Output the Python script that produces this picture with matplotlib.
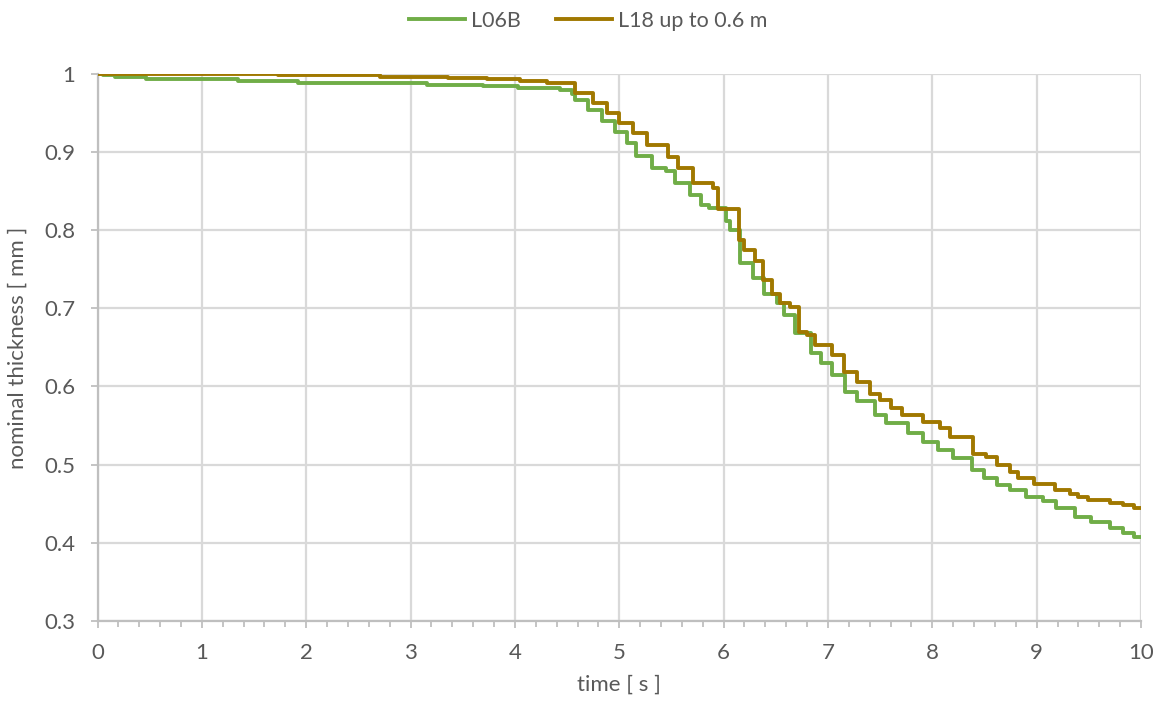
import matplotlib
matplotlib.use("Agg")
import matplotlib.pyplot as plt
from matplotlib.ticker import MultipleLocator, FuncFormatter

plt.rcParams['font.family'] = ['Lato', 'DejaVu Sans']

# step changes of the nominal thickness: time [s] where a level starts, level [mm]
l06b_t = [0, 0.05, 0.17, 0.46, 0.86, 1.35, 1.92, 2.55, 3.16, 3.69, 4.03, 4.43,
          4.55, 4.58, 4.70, 4.83, 4.96, 5.07, 5.16, 5.31, 5.45, 5.53, 5.68, 5.78,
          5.86, 6.02, 6.06, 6.16, 6.28, 6.39, 6.51, 6.58, 6.68, 6.84, 6.93, 7.04,
          7.16, 7.28, 7.45, 7.56, 7.77, 7.91, 8.05, 8.20, 8.38, 8.50, 8.62, 8.74,
          8.90, 9.06, 9.19, 9.37, 9.52, 9.70, 9.83, 9.93, 10.0]
l06b_d = [1.0, 0.998, 0.996, 0.994, 0.993, 0.991, 0.989, 0.988, 0.986, 0.9845, 0.9825, 0.980,
          0.974, 0.967, 0.954, 0.940, 0.926, 0.912, 0.895, 0.879, 0.876, 0.860, 0.845, 0.832,
          0.829, 0.812, 0.800, 0.758, 0.739, 0.719, 0.707, 0.692, 0.668, 0.643, 0.630, 0.615,
          0.593, 0.581, 0.564, 0.553, 0.540, 0.529, 0.519, 0.508, 0.493, 0.483, 0.474, 0.467,
          0.459, 0.453, 0.444, 0.433, 0.427, 0.419, 0.412, 0.407, 0.407]

l18_t = [0, 1.73, 2.71, 3.36, 3.73, 4.05, 4.31, 4.58, 4.75, 4.88, 5.0, 5.13,
         5.27, 5.47, 5.56, 5.71, 5.90, 5.95, 6.15, 6.20, 6.30, 6.38, 6.46, 6.54,
         6.64, 6.72, 6.80, 6.88, 7.04, 7.15, 7.28, 7.40, 7.50, 7.60, 7.71, 7.91,
         8.07, 8.17, 8.39, 8.51, 8.62, 8.74, 8.82, 8.97, 9.18, 9.32, 9.40, 9.49,
         9.70, 9.83, 9.93, 10.0]
l18_d = [1.0, 0.998, 0.996, 0.9945, 0.993, 0.991, 0.989, 0.975, 0.9625, 0.950, 0.937, 0.924,
         0.909, 0.894, 0.879, 0.861, 0.854, 0.827, 0.788, 0.775, 0.760, 0.736, 0.719, 0.707,
         0.702, 0.670, 0.666, 0.653, 0.640, 0.619, 0.606, 0.591, 0.583, 0.572, 0.564, 0.555,
         0.547, 0.535, 0.514, 0.510, 0.500, 0.490, 0.483, 0.475, 0.467, 0.463, 0.459, 0.455,
         0.451, 0.448, 0.444, 0.444]

text_col = '#595959'
grid_col = '#D9D9D9'
axis_col = '#BFBFBF'

fig = plt.figure(figsize=(11.65, 7.04), dpi=100)
ax = fig.add_axes([0.0837, 0.118, 0.8957, 0.777])

ax.plot(l06b_t, l06b_d, drawstyle='steps-post', color='#70AD47', linewidth=2.8, label='L06B', zorder=3)
ax.plot(l18_t, l18_d, drawstyle='steps-post', color='#A07800', linewidth=2.8, label='L18 up to 0.6 m', zorder=4)

ax.set_xlim(0, 10)
ax.set_ylim(0.3, 1.0)
ax.xaxis.set_major_locator(MultipleLocator(1))
ax.xaxis.set_minor_locator(MultipleLocator(0.2))
ax.yaxis.set_major_locator(MultipleLocator(0.1))
ax.yaxis.set_major_formatter(FuncFormatter(lambda v, pos: '{:g}'.format(round(v, 1))))

ax.grid(True, which='major', color=grid_col, linewidth=1.6)
ax.set_axisbelow(True)
for side in ['top', 'right']:
    ax.spines[side].set_visible(False)
for side in ['left', 'bottom']:
    ax.spines[side].set_color(axis_col)
    ax.spines[side].set_linewidth(1.6)

ax.tick_params(which='major', direction='out', length=5, width=1.3, color=axis_col,
               labelsize=16, labelcolor=text_col, pad=11)
ax.tick_params(axis='x', which='minor', direction='out', length=4, width=1.3, color=axis_col)

ax.set_xlabel('time [ s ]', fontsize=16, color=text_col, labelpad=8)
ax.set_ylabel('nominal thickness [ mm ]', fontsize=16, color=text_col, labelpad=12)

fig.legend(loc='upper center', bbox_to_anchor=(0.505, 1.012), ncol=2, frameon=False,
           fontsize=15.5, labelcolor=text_col, handlelength=2.6, handletextpad=0.3,
           columnspacing=1.6)

fig.savefig('out.png', dpi=100)
